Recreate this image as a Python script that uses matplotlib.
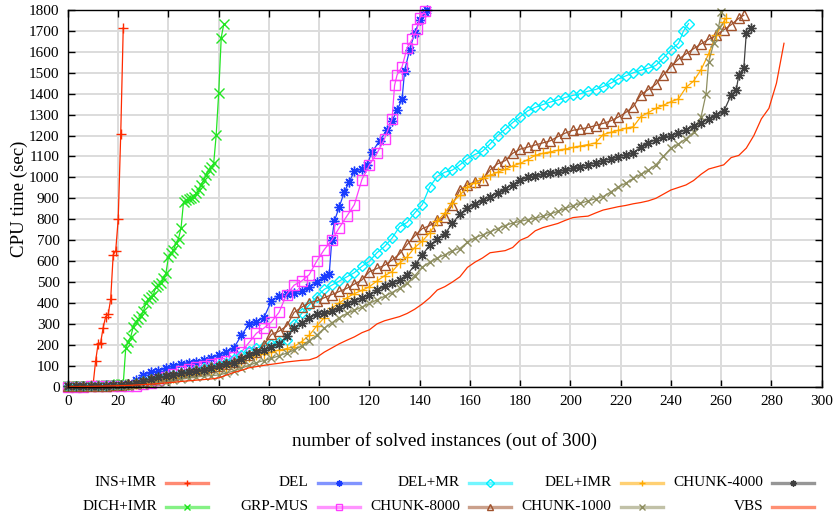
import numpy as np
import matplotlib
matplotlib.use("Agg")
import matplotlib.pyplot as plt
from matplotlib.lines import Line2D

plt.rcParams['font.family'] = ['Liberation Serif', 'DejaVu Serif']

# sorted CPU times; x = number of solved instances
ins_imr_y = [1, 1, 1, 2, 2, 3, 3, 4, 5, 6, 10, 123, 205, 210, 282, 335, 345, 418,
             630, 650, 801, 1207, 1715]
dich_imr_y = [1, 1, 1, 2, 2, 2, 3, 3, 3, 4, 4, 5, 5, 6, 6, 7, 8, 8, 9, 10, 11, 12, 14,
              186, 215, 239, 287, 310, 325, 338, 360, 398, 420, 430, 440, 478, 485,
              494, 518, 542, 621, 637, 653, 685, 708, 757, 884, 892, 897, 900, 908,
              925, 940, 964, 988, 1012, 1036, 1051, 1067, 1203, 1405, 1668, 1731]

# dense series: values every 3 instances from 0, then a tail with explicit x
del_y = [2, 3, 3, 4, 5, 6, 7, 9, 15, 30, 55, 68, 75, 88, 100, 110, 115, 120, 128, 138,
         150, 165, 185, 245, 298, 310, 330, 410, 432, 442, 450, 456, 476, 500, 525]
del_tx = [104, 105, 106, 108, 110, 112, 114, 117, 119, 121, 124, 127, 129, 131, 133,
          134, 136, 138, 140, 142, 143]
del_ty = [540, 700, 790, 860, 930, 980, 1030, 1040, 1060, 1120, 1175, 1225, 1270, 1320,
          1375, 1510, 1610, 1690, 1750, 1790, 1800]

grp_y = [0, 0, 0, 1, 1, 1, 2, 2, 3, 5, 12, 20, 30, 45, 60, 75, 85, 95, 100, 108,
         115, 125, 140, 165, 210, 255, 280, 310, 355, 440, 485, 505, 535, 600, 655, 700,
         760, 815, 870, 990, 1060, 1115, 1185, 1280]
grp_tx = [130, 131, 133, 135, 137, 139, 140, 142]
grp_ty = [1440, 1490, 1530, 1620, 1660, 1710, 1760, 1795]

delmr_y = [2, 2, 3, 3, 4, 5, 6, 8, 10, 18, 28, 35, 42, 50, 58, 65, 72, 80, 88, 95,
           105, 115, 130, 150, 170, 185, 195, 205, 215, 225, 300, 350, 390, 430, 465, 485,
           505, 525, 545, 575, 600, 640, 670, 710, 765, 785, 830, 870, 955, 1005,
           1025, 1035, 1060, 1090, 1110, 1125, 1160, 1200, 1230, 1262, 1290, 1318, 1335,
           1348, 1360, 1370, 1382, 1392, 1400, 1412, 1420, 1434, 1450, 1470, 1485, 1500,
           1512, 1522, 1535, 1570, 1610, 1640]
delmr_tx = [245, 247]
delmr_ty = [1700, 1735]

c8000_y = [2, 2, 3, 3, 4, 5, 6, 8, 12, 18, 28, 35, 42, 50, 58, 65, 72, 78, 85, 92,
           100, 110, 120, 135, 150, 165, 200, 250, 265, 290, 355, 380, 400, 410, 425, 440,
           455, 470, 490, 510, 550, 565, 580, 605, 635, 680, 720, 755, 770, 795,
           810, 870, 940, 965, 978, 990, 1035, 1065, 1080, 1115, 1135, 1145, 1155, 1165,
           1175, 1195, 1212, 1225, 1232, 1238, 1248, 1258, 1270, 1288, 1310, 1338, 1395,
           1420, 1445, 1490, 1530, 1565, 1590, 1615, 1638, 1660, 1680, 1705, 1730, 1760]
c8000_tx = [269]
c8000_ty = [1775]

delimr_y = [1, 1, 2, 2, 3, 4, 5, 6, 8, 12, 18, 24, 30, 36, 42, 50, 56, 62, 70, 78,
            86, 95, 110, 125, 140, 150, 157, 165, 175, 182, 192, 215, 245, 290, 330, 375,
            400, 425, 445, 460, 478, 505, 530, 550, 590, 620, 665, 695, 735, 790,
            830, 880, 915, 955, 975, 995, 1010, 1025, 1038, 1055, 1067, 1085, 1105, 1115,
            1122, 1130, 1136, 1143, 1150, 1157, 1165, 1205, 1215, 1225, 1235, 1242, 1290,
            1310, 1330, 1345, 1362, 1375, 1430, 1460, 1515, 1590, 1680, 1745]
delimr_tx = [262]
delimr_ty = [1760]

c1000_y = [1, 1, 1, 2, 2, 3, 3, 4, 5, 7, 10, 14, 18, 24, 30, 36, 42, 46, 50, 53,
           56, 65, 75, 88, 102, 115, 125, 135, 148, 160, 175, 195, 220, 245, 280, 305,
           330, 350, 365, 380, 398, 415, 432, 450, 470, 495, 530, 570, 595, 615,
           630, 650, 660, 690, 712, 725, 740, 755, 770, 782, 790, 798, 805, 815, 825,
           838, 852, 865, 876, 888, 898, 908, 930, 955, 972, 995, 1015, 1035, 1060, 1100,
           1140, 1160, 1185, 1215, 1290]
c1000_tx = [254, 255, 257, 259, 260]
c1000_ty = [1400, 1550, 1640, 1720, 1790]

c4000_y = [2, 2, 3, 3, 4, 5, 6, 8, 12, 18, 28, 38, 45, 50, 58, 64, 70, 74, 80, 90,
           100, 108, 115, 130, 150, 165, 175, 190, 205, 240, 280, 305, 330, 345, 352, 360,
           375, 395, 410, 425, 438, 460, 480, 495, 510, 535, 580, 630, 675, 705,
           730, 780, 825, 855, 872, 890, 908, 925, 945, 965, 988, 1000, 1008, 1014, 1020,
           1028, 1035, 1045, 1052, 1060, 1070, 1080, 1090, 1098, 1108, 1115, 1145, 1165,
           1180, 1192, 1200, 1212, 1228, 1245, 1262, 1280, 1298, 1315]
c4000_tx = [264, 266, 267, 269, 270, 272]
c4000_ty = [1395, 1418, 1489, 1521, 1690, 1712]

vbs_y = [0, 0, 1, 1, 2, 3, 4, 5, 6, 8, 10, 12, 15, 18, 21, 25, 28, 31, 34, 37,
         42, 55, 68, 78, 90, 96, 102, 107, 112, 118, 122, 126, 128, 140, 165, 185, 205,
         222, 238, 258, 272, 300, 315, 325, 335, 350, 370, 395, 425, 462, 478, 500,
         525, 570, 595, 615, 640, 645, 650, 665, 700, 715, 745, 760, 770, 780, 795,
         808, 812, 815, 830, 844, 852, 860, 866, 874, 880, 888, 900, 920, 940, 952,
         964, 985, 1015, 1040, 1050, 1060, 1095, 1105, 1140, 1200, 1280, 1330, 1450, 1641]

labels = ['INS+IMR', 'DICH+IMR', 'DEL', 'GRP-MUS', 'DEL+MR', 'CHUNK-8000',
          'DEL+IMR', 'CHUNK-1000', 'CHUNK-4000', 'VBS']
colors = ['#ff2a00', '#22e622', '#1a3cff', '#ff3cff', '#00f0ff', '#a0522d',
          '#ffaa00', '#8e8e60', '#404040', '#ff3300']
ast = (8, 2, 0)
markers = ['+', 'x', ast, 's', 'D', '^', '+', 'x', ast, None]
msizes = [7, 7, 7, 7, 5, 7, 7, 6, 7, 0]


def dense(body, tx, ty):
    x = np.concatenate([np.arange(len(body)) * 3, tx])
    y = np.concatenate([body, ty])
    return x, y


series = [
    (np.arange(len(ins_imr_y)), np.array(ins_imr_y)),
    (np.arange(len(dich_imr_y)), np.array(dich_imr_y)),
    dense(del_y, del_tx, del_ty),
    dense(grp_y, grp_tx, grp_ty),
    dense(delmr_y, delmr_tx, delmr_ty),
    dense(c8000_y, c8000_tx, c8000_ty),
    dense(delimr_y, delimr_tx, delimr_ty),
    dense(c1000_y, c1000_tx, c1000_ty),
    dense(c4000_y, c4000_tx, c4000_ty),
    (np.arange(len(vbs_y)) * 3, np.array(vbs_y)),
]

fig = plt.figure(figsize=(8.33, 5.18), dpi=100)
ax = fig.add_axes([0.0816, 0.2535, 0.9048, 0.7272])

for (x, y), lab, c, m, ms in zip(series, labels, colors, markers, msizes):
    hollow = m in ('s', 'D', '^')
    ax.plot(x, y, color=c, lw=0.9, marker=m, ms=ms, mew=1.0,
            mfc='none' if hollow else c, clip_on=False, zorder=3)

ax.set_xlim(0, 300)
ax.set_ylim(0, 1800)
ax.set_xticks(np.arange(0, 301, 20))
ax.set_yticks(np.arange(0, 1801, 100))
ax.grid(True, color='#dcdcdc', lw=1.4)
ax.set_axisbelow(True)
ax.tick_params(direction='in', top=True, right=True, length=5, width=1,
               labelsize=11, pad=6)
for s in ax.spines.values():
    s.set_linewidth(1)
    s.set_zorder(4)
ax.set_xlabel('number of solved instances (out of 300)', fontsize=13.8, labelpad=17)
ax.set_ylabel('CPU time (sec)', fontsize=13.6)
ax.yaxis.set_label_coords(-0.053, 0.5)

# key: two rows, five columns, text right-justified before the sample
W, H = 833.0, 518.0
for i, (lab, c, m) in enumerate(zip(labels, colors, markers)):
    col, row = i // 2, i % 2
    x0 = 166 + col * 151.5
    yy = 1 - (483 + row * 24) / H
    fig.add_artist(Line2D([x0 / W, (x0 + 42) / W], [yy, yy], color=c, lw=2.4,
                          alpha=0.55, transform=fig.transFigure))
    if m is not None:
        fig.add_artist(Line2D([(x0 + 21) / W], [yy], color=c, marker=m, ms=4.5,
                              mew=1.0, mfc='none', transform=fig.transFigure))
    fig.text((x0 - 9) / W, yy, lab, ha='right', va='center', fontsize=11)

fig.savefig('out.png', dpi=100)
